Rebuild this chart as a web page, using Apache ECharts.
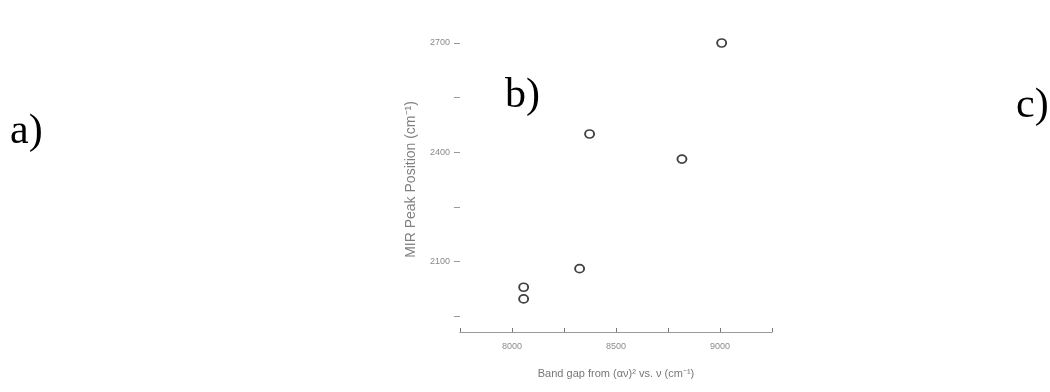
<!DOCTYPE html>
<html><head><meta charset="utf-8">
<script src="https://cdn.jsdelivr.net/npm/echarts@6/dist/echarts.min.js"></script>
<style>html,body{margin:0;padding:0;background:#fff}#c{width:1050px;height:392px}</style>
</head><body><div id="c"></div>
<script>
// Band gap (cm^-1) vs MIR peak position (cm^-1)
const bandGap = [8056, 8056, 8325, 8373, 8817, 9008];
const mirPeak = [1997, 2029, 2080, 2450, 2381, 2700];
const panelLabels = ['a)', 'b)', 'c)'];
const xTitle = 'Band gap from (αν)² vs. ν (cm⁻¹)';
const yTitle = 'MIR Peak Position (cm⁻¹)';

const chart = echarts.init(document.getElementById('c'), null, {renderer: 'canvas'});
const grey = '#8a8a8a';
chart.setOption({
  animation: false,
  grid: {left: 460, right: 278, top: 43, bottom: 76},
  xAxis: {
    type: 'value', min: 7750, max: 9250, interval: 250, offset: 16,
    axisLine: {show: true, lineStyle: {color: '#9a9a9a', width: 1}},
    axisTick: {show: true, inside: true, length: 4, lineStyle: {color: '#777'}},
    splitLine: {show: false},
    axisLabel: {color: grey, fontSize: 9, fontFamily: 'Liberation Sans', margin: 10,
      formatter: v => (v % 500 === 0 ? String(v) : '')},
    name: xTitle, nameLocation: 'middle', nameGap: 36,
    nameTextStyle: {color: '#777', fontSize: 11, fontFamily: 'Liberation Sans'}
  },
  yAxis: {
    type: 'value', min: 1950, max: 2700, interval: 150,
    axisLine: {show: false},
    axisTick: {show: true, inside: false, length: 6, lineStyle: {color: '#999'}},
    splitLine: {show: false},
    axisLabel: {color: grey, fontSize: 9, fontFamily: 'Liberation Sans', margin: 10,
      formatter: v => (v % 300 === 0 ? String(v) : '')},
    name: yTitle, nameLocation: 'middle', nameGap: 42,
    nameTextStyle: {color: '#808080', fontSize: 14, fontFamily: 'Liberation Sans'}
  },
  series: [{
    type: 'scatter', clip: false,
    data: bandGap.map((x, i) => [x, mirPeak[i]]),
    symbol: 'circle', symbolSize: [9, 8],
    itemStyle: {color: '#fff', borderColor: '#111', borderWidth: 1.8}
  }],
  graphic: [
    {type: 'text', left: 10, top: 111, style: {text: panelLabels[0], font: '42px "Liberation Serif"', fill: '#000'}},
    {type: 'text', left: 505, top: 75, style: {text: panelLabels[1], font: '42px "Liberation Serif"', fill: '#000'}},
    {type: 'text', left: 1016, top: 85, style: {text: panelLabels[2], font: '42px "Liberation Serif"', fill: '#000'}}
  ]
});
</script></body></html>
